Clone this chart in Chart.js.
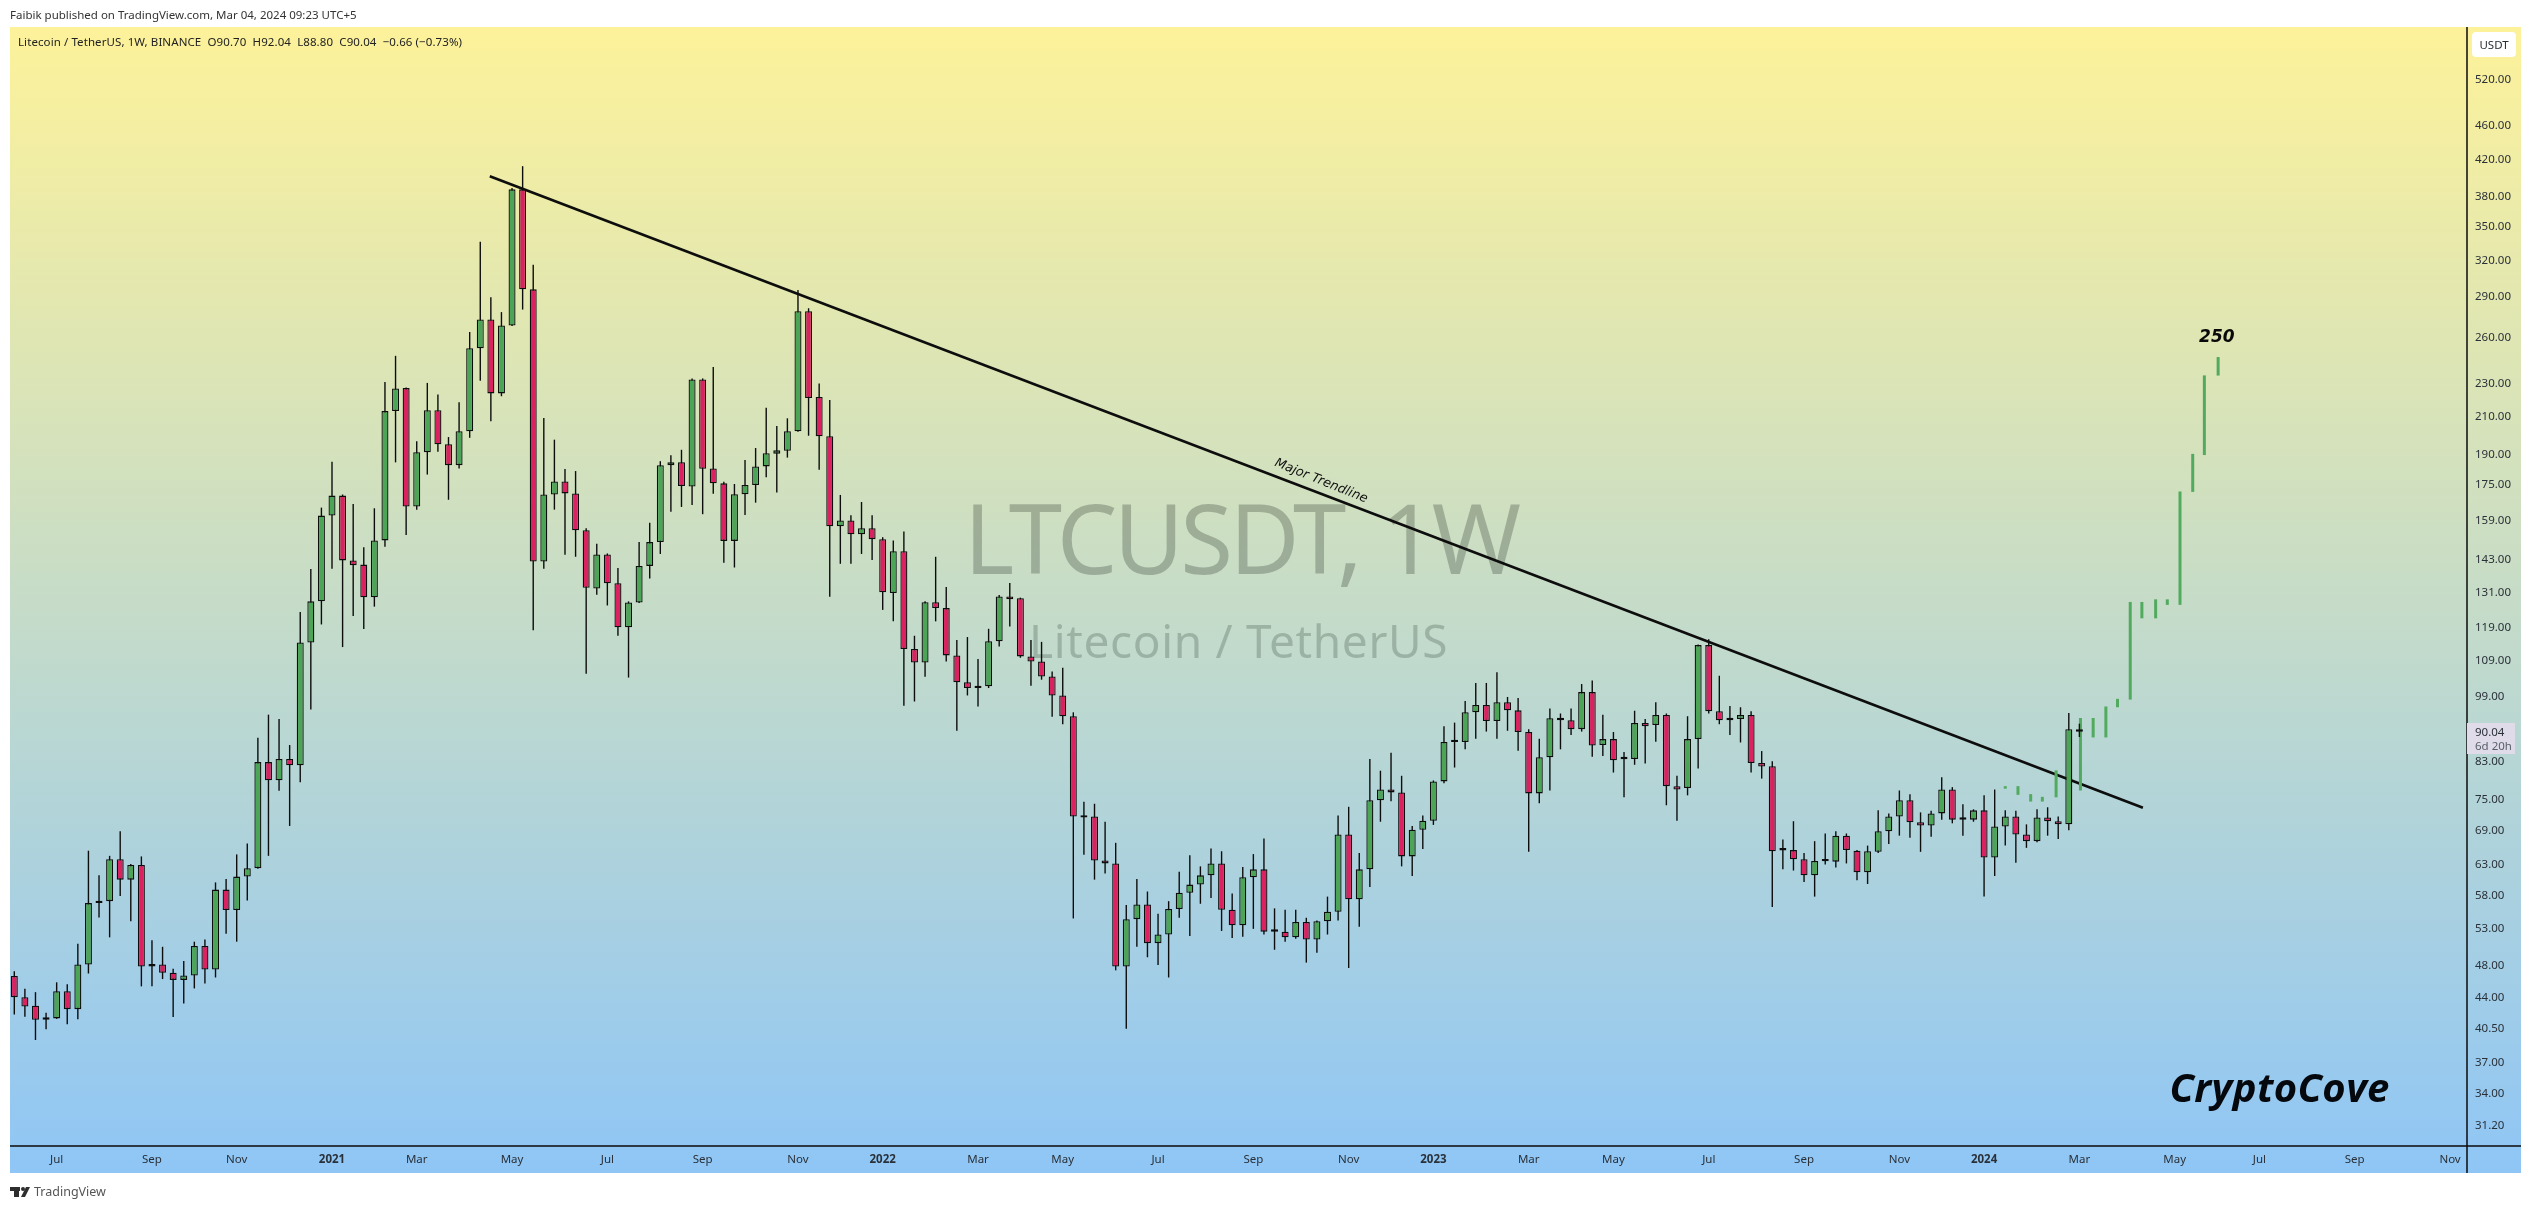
<!DOCTYPE html>
<html lang="en">
<head>
    <meta charset="UTF-8">
    <title>LTCUSDT, 1W</title>
    <script src="https://cdn.jsdelivr.net/npm/chart.js"></script>
    <style>
        html, body { margin: 0; padding: 0; background: #fff; }
        canvas { display: block; }
    </style>
</head>
<body>
    <canvas id="chart" width="2531" height="1209"></canvas>
    <script>
        // weekly candles, first one is the week of 2020-06-08, x unit = weeks from there
        const opens = [
            46.7,44.1,43.1,41.5,41.65,44.8,42.7,48.15,56.8,57.1,
            63.9,60.5,62.95,47.9,48.15,47.1,46.2,46.75,50.6,47.5,
            58.9,55.75,61,62.4,83,79.05,83.7,82.3,114.5,127.9,
            161.1,170,142.8,141.2,129.3,150.7,213.4,227,165.1,191,
            213.9,195.2,184.5,202.1,252.7,273,223.8,268.7,387.5,296.1,
            142.4,170.5,176.6,171,154.9,132.4,145.1,134.3,119.3,127.5,
            140.7,150,184.5,186,174.2,232.4,182.9,175.7,150.5,170.6,
            174.9,183.9,190.3,191.8,202.1,279.1,221.6,199.4,156.5,159,
            153.2,155.7,151.2,130.8,146.4,112.5,108.5,127.6,125.6,110.6,
            102.9,101.3,101.8,114.9,129.6,129,110.3,108.8,104.5,99.3,
            93.9,71.6,71.7,63.7,63.2,47.9,54.4,56.6,51,52.2,
            55.9,58.4,59.7,61.2,63.2,55.8,53.5,60.9,62.2,52.6,
            52.6,51.8,54,51.5,54.1,55.5,68.3,57.4,62.2,74.9,
            77.1,76.5,64.4,69.2,70.9,78.8,87.6,87.6,94.9,96.8,
            92.7,97.5,95.4,90,76.3,84.1,93.4,92.9,90.7,100.2,
            86.9,88.3,83.7,83.7,92.2,91.7,94.2,77.8,77.4,88.3,
            113.7,95.2,93.1,93.2,94.2,82.8,82.1,65.5,65.5,63.9,
            61.2,63.55,63.5,68.1,65.4,61.7,65.2,68.9,71.7,74.9,
            70.6,70,72.3,77.1,71.15,71.1,72.9,64.2,69.8,71.7,
            68.3,67.1,71.5,70.8,70.2,90.7
        ];
        const closes = [
            44.1,43,41.5,41.7,44.8,42.7,48.15,56.8,57.1,63.9,
            60.5,62.95,47.9,48.15,47.1,46.2,46.75,50.6,47.5,58.9,
            55.75,61,62.4,83,79.05,83.7,82.3,114.5,127.9,161.1,
            170,142.8,141,129.3,150.7,213.4,226.8,165.1,191,213.9,
            195.2,184.5,202.1,252.7,273,223.8,268.7,387.5,296.1,142.4,
            170.5,176.6,171,154.9,132.7,145.1,134.3,119.3,127.5,140.7,
            150,184.5,186,174.4,232.4,182.7,175.7,150.5,170.6,174.9,
            183.9,190.5,192,202.1,279.1,221,199.4,156.5,159,153.2,
            155.7,151.2,131.1,146.4,112.5,108.5,127.6,125.6,110.6,102.9,
            101.3,101.8,114.9,129.6,128.6,110.3,108.8,104.5,99.3,93.9,
            71.7,71.5,63.7,63.2,47.9,54.4,56.6,51,52.2,55.9,
            58.4,59.7,61.2,63.2,55.8,53.5,60.9,62.2,52.6,52.65,
            51.8,54,51.5,54.1,55.5,68.3,57.4,62.2,74.9,77.1,
            76.5,64.4,69.2,70.9,78.8,87.6,87.65,94.9,96.8,92.7,
            97.5,95.4,90,76.3,84.1,93.4,92.9,90.7,100.2,86.8,
            88.3,83.4,83.65,92.2,91.4,94.2,77.8,77.1,88.3,113.7,
            95.2,92.9,92.9,94.2,82.8,82,65.3,65.45,63.9,61.2,
            63.6,63.6,68.1,65.5,61.7,65.3,68.9,71.7,74.9,70.6,
            70,72.3,77.1,71.1,71.1,72.9,64.2,69.8,71.7,68.3,
            67.1,71.5,70.8,70.2,90.7,90.04
        ];
        const highs = [
            47.3,45.1,44.7,42.3,45.9,45.65,50.9,65.4,61.2,64.5,
            68.9,63.1,64.4,51.4,50.5,47.6,48.6,51.2,51.5,60.05,
            60.6,64.75,66.7,88.6,94.3,93.2,86.9,124.3,139.5,164.6,
            186.2,170.5,166.2,147.9,164.3,230.8,247.6,227.4,196.8,230.2,
            223.1,199,218.5,264,336.5,289.9,278.5,388.8,412.4,316.3,
            209.5,197.6,182.6,181.6,155.7,149.3,145.5,139.9,127.9,150,
            158,186.5,189.5,192.3,232.9,233,240.3,176.4,175.4,187.1,
            193.2,215.3,205,209.3,295.6,281.4,229.8,219.9,170.3,161.3,
            167.1,161.3,152,150.7,154.3,116.6,127.9,144.2,132.9,115.3,
            116.2,109.5,118.8,130.1,134.4,129.2,115.3,114.7,105.9,107,
            94.9,74.6,74.2,70.7,66.8,56.5,60.6,58.6,55.2,57.1,
            61.8,64.6,62.7,65.8,65.3,58.3,62.6,64.8,67.6,56,
            55.8,55.8,54.6,54.2,57.8,71.9,73.6,65,83.7,81.1,
            85.1,80,69.9,71.9,79,91.4,92.3,97.8,102.7,102.7,
            105.7,98.9,98.6,90.7,88.4,95.9,94.6,95.9,102.4,103.4,
            94.3,90,85.3,95.3,93.2,97.5,94.6,80,93.9,113.9,
            115.5,104.7,96.5,96.2,95.2,85.5,83.2,67.4,70.8,65,
            67.1,68.5,68.9,68.5,65.5,66.3,72.9,72.3,76.9,76.1,
            72.5,72.8,79.7,77.6,74.1,73.1,75.9,77.1,72.9,72.8,
            70.2,73.1,73.5,71.7,94.7,92.04
        ];
        const lows = [
            42.1,41.85,39.3,40.45,41.6,41,41.55,47,54.65,51.8,
            57.9,54.1,45.4,45.4,46.3,41.8,43.35,45.15,45.75,46.5,
            52.3,51.2,57.2,62.3,64.5,76.85,69.9,78.6,95.6,120.2,
            139.6,113.1,123,118.7,126.1,148.1,185.9,152.9,163.7,179.9,
            191.3,168.1,182.8,198.6,231.5,207.6,222.1,268.2,280.4,118.3,
            139.6,163.7,145,144.2,105.3,130.2,126.5,116.6,104.2,127.3,
            136,145.3,162.8,164.9,165.7,161.7,170.9,141.9,140.1,161.4,
            166.8,178.6,171.4,188.3,201.8,199.7,182.3,129.5,141.5,141.5,
            145.3,143,125,121.2,96.6,97.7,104.4,121.2,108.8,90.3,
            99.3,96.4,101.3,113.3,119.5,109.9,101.9,103.6,93.8,91.9,
            54.5,64.7,60.5,61.5,47.4,40.5,50.5,49.1,48.1,46.5,
            54.6,52,56.7,57.6,52.7,51.7,51.9,53,52.2,50.1,
            51.2,51.6,48.4,49.7,52.2,54.2,47.7,53.3,59.3,70.7,
            74.7,62.7,61.1,65.7,70.1,78.4,81.8,85.9,88.4,90.1,
            88.4,90.3,85.6,65.2,74.3,76.9,85.9,89.3,90.1,84.2,
            84.4,80.7,75.5,82.4,82.7,87.7,73.9,70.9,75.9,81.6,
            94.6,91.9,89.3,87.5,80.7,79.4,56.2,62.2,62,60.1,
            57.8,63,62.5,63.2,60.4,59.8,65,66.6,68.1,67.7,
            65.2,67.9,71.1,70.4,68.1,70.7,57.8,61.1,66.3,63.3,
            65.9,66.9,68.1,67.5,69.1,88.8
        ];

        // the drawn "bars pattern" projection
        const ghostX = [188,189.2,190.4,191.5,192.8,195.1,196.3,197.5,198.6,199.8,200.9,202.2,203.3,204.5,205.7,206.8,208.1];
        const ghostLow = [77.27,76,74.64,74.64,75.5,76.9,88.7,88.7,96.2,98.2,122.2,122.2,126.7,126.7,171.7,189.6,234.8];
        const ghostHigh = [77.8,77.8,76.15,75.6,81.17,93.45,93.45,96.4,98.4,127.7,127.7,128.6,128.6,171.9,190.2,234.9,246.8];

        // major trendline end points (week, price)
        const trendX = [44.9,201];
        const trendY = [401.4,73.4];

        const yTicks = [520,460,420,380,350,320,290,260,230,210,190,175,159,143,131,119,109,99,83,75,69,63,58,53,48,44,40.5,37,34,31.2];
        const xTicks = [4,13,21,30,38,47,56,65,74,82,91,99,108,117,126,134,143,151,160,169,178,186,195,204,212,221,230];
        const xLabels = ['Jul','Sep','Nov','2021','Mar','May','Jul','Sep','Nov','2022','Mar','May','Jul','Sep','Nov','2023','Mar','May','Jul','Sep','Nov','2024','Mar','May','Jul','Sep','Nov'];

        const GREEN = '#4ca457';
        const RED = '#d9225f';
        const INK = '#0d0d0d';
        const AXIS_TEXT = '#2a3038';
        const SANS = '"Noto Sans", sans-serif';

        function drawText(ctx, text, x, y, font, color, opts = {}) {
            ctx.save();
            ctx.font = font;
            ctx.fillStyle = color;
            ctx.textAlign = opts.align || 'left';
            ctx.textBaseline = opts.baseline || 'alphabetic';
            ctx.letterSpacing = opts.spacing || '0px';
            ctx.fillText(text, x, y);
            ctx.restore();
        }

        const backdrop = {
            id: 'backdrop',
            beforeDraw(chart) {
                const ctx = chart.ctx;
                const grad = ctx.createLinearGradient(0, 27, 0, 1173);
                grad.addColorStop(0, '#fdf29a');
                grad.addColorStop(1, '#8fc6f6');
                ctx.save();
                ctx.fillStyle = grad;
                ctx.fillRect(10, 27, 2511, 1146);
                ctx.restore();
            },
            beforeDatasetsDraw(chart) {
                const ctx = chart.ctx;
                drawText(ctx, 'LTCUSDT, 1W', 964, 574, '96px ' + SANS, 'rgba(50,60,50,0.3)', { spacing: '-3.6px' });
                drawText(ctx, 'Litecoin / TetherUS', 1029, 658, '46px ' + SANS, 'rgba(50,70,60,0.27)', { spacing: '0.65px' });
            }
        };

        const overlay = {
            id: 'overlay',
            afterDraw(chart) {
                const ctx = chart.ctx;
                const { x, y } = chart.scales;

                // axis lines reach the panel edges
                ctx.save();
                ctx.strokeStyle = INK;
                ctx.lineWidth = 1.5;
                ctx.beginPath();
                ctx.moveTo(chart.chartArea.right, 27);
                ctx.lineTo(chart.chartArea.right, 1173);
                ctx.moveTo(10, chart.chartArea.bottom);
                ctx.lineTo(2521, chart.chartArea.bottom);
                ctx.stroke();

                // USDT badge
                ctx.fillStyle = '#ffffff';
                ctx.beginPath();
                ctx.roundRect(2472, 32, 44, 25, 4);
                ctx.fill();

                // last price label
                ctx.fillStyle = '#dfdbe8';
                ctx.fillRect(2467, 723, 48, 31);
                ctx.restore();

                drawText(ctx, 'USDT', 2494, 49, '11.5px ' + SANS, AXIS_TEXT, { align: 'center' });
                drawText(ctx, '90.04', 2475, 736, '11.5px ' + SANS, AXIS_TEXT);
                drawText(ctx, '6d 20h', 2475, 750, '11.5px ' + SANS, '#59606a');

                // header and legend
                drawText(ctx, 'Faibik published on TradingView.com, Mar 04, 2024 09:23 UTC+5', 10, 19, '11.5px ' + SANS, '#333');
                drawText(ctx, 'Litecoin / TetherUS, 1W, BINANCE  O90.70  H92.04  L88.80  C90.04  \u22120.66 (\u22120.73%)', 18, 46, '11.5px ' + SANS, '#222', { spacing: '0.09px' });

                // annotations, anchored on the scales
                drawText(ctx, '250', x.getPixelForValue(206.3), y.getPixelForValue(257), 'italic bold 17px "DejaVu Sans"', '#0a0a0a');
                drawText(ctx, 'CryptoCove', x.getPixelForValue(203.5), y.getPixelForValue(33.3), 'italic bold 40px "Open Sans"', '#05080c', { spacing: '0.4px' });

                ctx.save();
                ctx.translate(x.getPixelForValue(123.4), y.getPixelForValue(176.8));
                ctx.rotate(22 * Math.PI / 180);
                drawText(ctx, 'Major Trendline', 0, 0, 'italic 12.8px "DejaVu Sans"', '#111', { align: 'center', baseline: 'middle' });
                ctx.restore();

                // footer mark
                ctx.save();
                ctx.fillStyle = '#2e2e2e';
                ctx.fillRect(10, 1187, 10, 4);
                ctx.fillRect(14, 1187, 5, 10);
                ctx.beginPath();
                ctx.arc(23, 1189, 2, 0, Math.PI * 2);
                ctx.fill();
                ctx.beginPath();
                ctx.moveTo(26, 1187);
                ctx.lineTo(30, 1187);
                ctx.lineTo(25, 1197);
                ctx.lineTo(21, 1197);
                ctx.closePath();
                ctx.fill();
                ctx.restore();
                drawText(ctx, 'TradingView', 34, 1196, '12.5px ' + SANS, '#555');
            }
        };

        const chart = new Chart(document.getElementById('chart'), {
            type: 'bar',
            data: {
                datasets: [
                    {
                        label: 'bodies',
                        order: 1,
                        data: opens.map((o, i) => ({ x: i, y: [o, closes[i]] })),
                        backgroundColor: opens.map((o, i) => closes[i] >= o ? GREEN : RED),
                        borderColor: INK,
                        borderWidth: 1.3,
                        borderSkipped: false,
                        inflateAmount: 0,
                        barThickness: 7,
                        minBarLength: 2.4,
                        grouped: false
                    },
                    {
                        label: 'wicks',
                        order: 2,
                        data: highs.map((h, i) => ({ x: i, y: [lows[i], h] })),
                        backgroundColor: INK,
                        borderWidth: 0,
                        inflateAmount: 0,
                        barThickness: 1.4,
                        grouped: false
                    },
                    {
                        label: 'projection',
                        order: 3,
                        data: ghostX.map((gx, i) => ({ x: gx, y: [ghostLow[i], ghostHigh[i]] })),
                        backgroundColor: '#52aa5e',
                        borderWidth: 0,
                        inflateAmount: 0,
                        barThickness: 3,
                        grouped: false
                    },
                    {
                        type: 'line',
                        label: 'Major Trendline',
                        order: 4,
                        data: trendX.map((tx, i) => ({ x: tx, y: trendY[i] })),
                        borderColor: INK,
                        borderWidth: 2.6,
                        pointRadius: 0,
                        tension: 0
                    }
                ]
            },
            options: {
                responsive: false,
                animation: false,
                devicePixelRatio: 1,
                layout: { padding: { left: 10, top: 27, right: 10, bottom: 36 } },
                plugins: { legend: { display: false }, tooltip: { enabled: false } },
                scales: {
                    x: {
                        type: 'linear',
                        offset: false,
                        min: -0.406,
                        max: 231.6,
                        grid: { display: false, drawTicks: false },
                        border: { display: false },
                        afterBuildTicks: scale => { scale.ticks = xTicks.map(v => ({ value: v })); },
                        afterFit: scale => { scale.height = 27; },
                        ticks: {
                            autoSkip: false,
                            maxRotation: 0,
                            padding: 7,
                            color: AXIS_TEXT,
                            callback: value => xLabels[xTicks.indexOf(value)],
                            font: ctx => ({
                                family: SANS,
                                size: 11.5,
                                weight: /^\d/.test(xLabels[ctx.index] || '') ? 'bold' : 'normal'
                            })
                        }
                    },
                    y: {
                        type: 'logarithmic',
                        position: 'right',
                        min: 29.55,
                        max: 599.7,
                        grid: { display: false, drawTicks: false },
                        border: { display: false },
                        afterBuildTicks: scale => { scale.ticks = yTicks.map(v => ({ value: v })); },
                        afterFit: scale => { scale.width = 54; },
                        ticks: {
                            autoSkip: false,
                            padding: 8,
                            color: AXIS_TEXT,
                            font: { family: SANS, size: 11.5 },
                            callback: value => Number(value).toFixed(2)
                        }
                    }
                }
            },
            plugins: [backdrop, overlay]
        });
    </script>
</body>
</html>
